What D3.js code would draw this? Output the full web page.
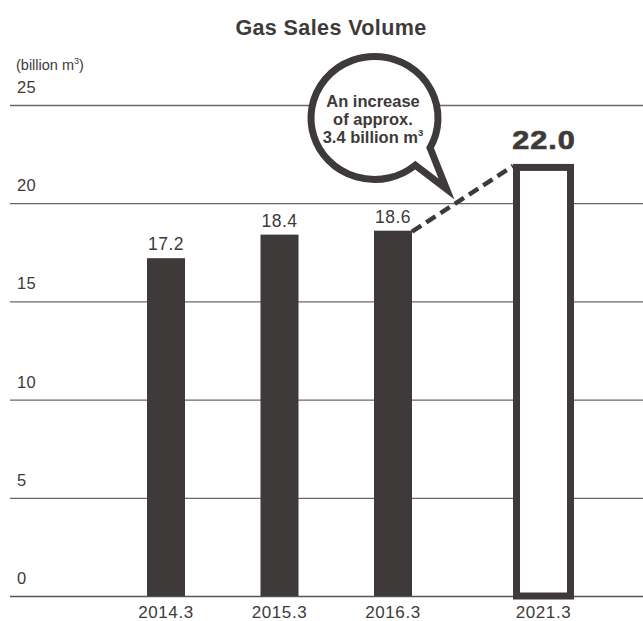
<!DOCTYPE html>
<html><head><meta charset="utf-8">
<script src="https://cdn.jsdelivr.net/npm/d3@7"></script>
<style>
body{margin:0;background:#fff;}
svg text{font-family:"Liberation Sans",Arial,Helvetica,sans-serif;fill:#3e3a39;}
</style></head>
<body>
<svg id="c" width="643" height="621"></svg>
<script>
const categories = ["2014.3","2015.3","2016.3","2021.3"];
const values = [17.2, 18.4, 18.6, 22.0];
const isForecast = [false, false, false, true];
const yTicks = [0, 5, 10, 15, 20, 25];
const title = "Gas Sales Volume";
const unitLabel = "(billion m";
const calloutLines = ["An increase", "of approx.", "3.4 billion m"];

const svg = d3.select("#c");
const ink = "#3e3a39";
const forecastGap = 0.326;
const slot = categories.map((c,i) => i + (isForecast[i] ? forecastGap : 0));

const y = d3.scaleLinear().domain([0,25]).range([596,105]);
const x = d3.scaleLinear().domain([0, 3 + forecastGap]).range([166, 543.5]);

// title
svg.append("text").attr("x",331).attr("y",35).attr("text-anchor","middle")
  .attr("font-size",21.5).attr("font-weight","bold").attr("letter-spacing",0.4).text(title);
// unit
const u = svg.append("text").attr("x",16).attr("y",70).attr("font-size",14.5);
u.append("tspan").text(unitLabel);
u.append("tspan").attr("dy",-6).attr("font-size",9).text("3");
u.append("tspan").attr("dy",6).text(")");

// grid
const yAxis = d3.axisLeft(y).tickValues(yTicks).tickSize(-633).tickFormat("");
const g = svg.append("g").attr("transform","translate(10,0)").call(yAxis);
g.select(".domain").remove();
g.selectAll(".tick line").attr("stroke","#6a6767").attr("stroke-width",1.3);
g.selectAll(".tick").filter(d=>d===0).select("line").attr("stroke","#555").attr("stroke-width",1.6);

// y tick labels above lines
svg.selectAll(".ylab").data(yTicks).join("text").attr("class","ylab")
  .attr("x",17).attr("y",d=>y(d)-12).attr("font-size",16.5).attr("letter-spacing",0.4).text(d=>d);

// actual bars
const bw = 38;
const actual = values.map((v,i)=>({v,i})).filter(d=>!isForecast[d.i]);
svg.selectAll(".bar").data(actual).join("rect").attr("class","bar")
  .attr("x",d=>x(slot[d.i])-bw/2).attr("width",bw)
  .attr("y",d=>y(d.v)).attr("height",d=>y(0)-y(d.v)).attr("fill",ink);
svg.selectAll(".vlab").data(actual).join("text").attr("class","vlab")
  .attr("x",d=>x(slot[d.i])).attr("y",d=>y(d.v)-8).attr("text-anchor","middle")
  .attr("font-size",17.5).attr("letter-spacing",0.5).text(d=>d.v.toFixed(1));

// forecast bar (outlined)
const fw = 61, sw = 7;
const fc = values.map((v,i)=>({v,i})).filter(d=>isForecast[d.i]);
svg.selectAll(".fbar").data(fc).join("rect").attr("class","fbar")
  .attr("x",d=>x(slot[d.i])-fw/2+sw/2).attr("width",fw-sw)
  .attr("y",d=>y(d.v)+sw/2).attr("height",d=>y(0)-y(d.v)-sw/2)
  .attr("fill","#fff").attr("stroke",ink).attr("stroke-width",sw);
svg.selectAll(".flab").data(fc).join("text").attr("class","flab")
  .attr("text-anchor","middle")
  .attr("transform",d=>`translate(${x(slot[d.i])+0.5},${y(d.v)-15}) scale(1.2,1)`)
  .attr("font-size",25.5).attr("font-weight","bold").attr("letter-spacing",0.8)
  .attr("stroke",ink).attr("stroke-width",0.7).text(d=>d.v.toFixed(1));

// dashed connector
const last = actual[actual.length-1], f = fc[0];
svg.append("line")
  .attr("x1",x(slot[last.i])+bw/2).attr("y1",y(last.v)+1)
  .attr("x2",x(slot[f.i])-fw/2).attr("y2",y(f.v)+2)
  .attr("stroke",ink).attr("stroke-width",4.5).attr("stroke-dasharray","11,6");

// x labels
svg.selectAll(".xlab").data(categories).join("text").attr("class","xlab")
  .attr("x",(d,i)=>x(slot[i])).attr("y",618).attr("text-anchor","middle")
  .attr("font-size",17).attr("letter-spacing",0.6).text(d=>d);

// callout bubble: ellipse with a wedge tail, one path
const cx = 374.5, cy = 118, rx = 63.5, ry = 61.5;
const a1 = 29*Math.PI/180, a2 = 50*Math.PI/180;
const p1 = [cx+rx*Math.cos(a1), cy+ry*Math.sin(a1)];
const p2 = [cx+rx*Math.cos(a2), cy+ry*Math.sin(a2)];
const tip = [446.5,189];
const bubble = d3.path();
bubble.moveTo(p1[0],p1[1]);
bubble.lineTo(tip[0],tip[1]);
bubble.lineTo(p2[0],p2[1]);
const dstr = bubble.toString() + `A${rx},${ry} 0 1 1 ${p1[0]},${p1[1]}Z`;
svg.append("path").attr("d",dstr).attr("fill","#fff").attr("stroke",ink)
  .attr("stroke-width",7).attr("stroke-linejoin","miter").attr("stroke-miterlimit",10);
const ct = svg.append("g");
calloutLines.forEach((t,k)=>{
  const tx = ct.append("text").attr("x",cx-1.5).attr("y",107+k*18).attr("text-anchor","middle")
    .attr("font-size",16.5).attr("font-weight","bold").text(t);
  if(k===2){ tx.append("tspan").attr("dy",-7).attr("font-size",9.5).text("3"); }
});
</script>
</body></html>
